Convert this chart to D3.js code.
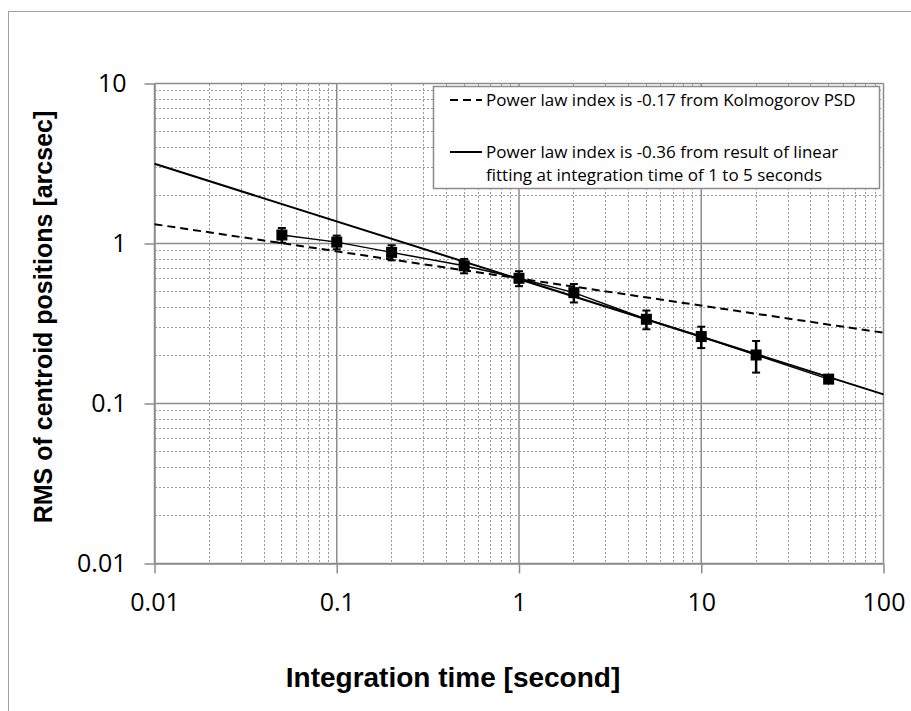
<!DOCTYPE html>
<html>
<head>
<meta charset="utf-8">
<script src="https://cdnjs.cloudflare.com/ajax/libs/d3/7.8.5/d3.min.js"></script>
<style>
    body { margin: 0; background: #fff; }
</style>
</head>
<body>
<svg id="chart" width="911" height="711"></svg>
<script>
// measured points
var integrationTimes = [0.05, 0.1, 0.2, 0.5, 1, 2, 5, 10, 20, 50];
var rmsValues = [1.13, 1.02, 0.88, 0.726, 0.606, 0.493, 0.336, 0.262, 0.201, 0.142];
var rmsErrors = [0.12, 0.10, 0.095, 0.075, 0.065, 0.065, 0.045, 0.04, 0.045, 0.006];

// power law fit lines, read at both ends of the x range
var fitX = [0.01, 100];
var kolmogorovY = [1.32, 0.277];
var linearFitY = [3.15, 0.114];

var xTickValues = [0.01, 0.1, 1, 10, 100];
var xTickLabels = ["0.01", "0.1", "1", "10", "100"];
var yTickValues = [0.01, 0.1, 1, 10];
var yTickLabels = ["0.01", "0.1", "1", "10"];

var legendLines = [
    ["Power law index is -0.17 from Kolmogorov PSD"],
    ["Power law index is -0.36 from result of linear", "fitting at integration time of 1 to 5 seconds"]
];

var plotLeft = 154.5, plotRight = 883.5, plotTop = 83.5, plotBottom = 563.5;
var chart = d3.select("#chart");

var x = d3.scaleLog().domain([0.01, 100]).range([plotLeft, plotRight]);
var y = d3.scaleLog().domain([0.01, 10]).range([plotBottom, plotTop]);

function isMajor(v) {
    var l = Math.log10(v);
    return Math.abs(l - Math.round(l)) < 1e-9;
}

// outer frame
chart.append("rect")
    .attr("x", 8.5).attr("y", 11.5)
    .attr("width", 1000).attr("height", 1000)
    .attr("fill", "none")
    .attr("stroke", "#a0a0a0")
    .attr("stroke-width", 1);

// minor grid
var xMinor = x.ticks().filter(function(d) { return !isMajor(d); });
var yMinor = y.ticks().filter(function(d) { return !isMajor(d); });

chart.append("g").selectAll("line")
    .data(xMinor)
    .enter()
    .append("line")
    .attr("x1", function(d) { return x(d); })
    .attr("x2", function(d) { return x(d); })
    .attr("y1", plotTop)
    .attr("y2", plotBottom)
    .attr("stroke", "#9a9a9a")
    .attr("stroke-width", 1)
    .attr("shape-rendering", "crispEdges")
    .attr("stroke-dasharray", "2,2");

chart.append("g").selectAll("line")
    .data(yMinor)
    .enter()
    .append("line")
    .attr("x1", plotLeft)
    .attr("x2", plotRight)
    .attr("y1", function(d) { return y(d); })
    .attr("y2", function(d) { return y(d); })
    .attr("stroke", "#9a9a9a")
    .attr("stroke-width", 1)
    .attr("shape-rendering", "crispEdges")
    .attr("stroke-dasharray", "2,2");

// major grid
chart.append("g").selectAll("line")
    .data(xTickValues)
    .enter()
    .append("line")
    .attr("x1", function(d) { return x(d); })
    .attr("x2", function(d) { return x(d); })
    .attr("y1", plotTop)
    .attr("y2", plotBottom)
    .attr("stroke", "#8c8c8c")
    .attr("stroke-width", 1.5);

chart.append("g").selectAll("line")
    .data(yTickValues)
    .enter()
    .append("line")
    .attr("x1", plotLeft)
    .attr("x2", plotRight)
    .attr("y1", function(d) { return y(d); })
    .attr("y2", function(d) { return y(d); })
    .attr("stroke", "#8c8c8c")
    .attr("stroke-width", 1.5);

// axes
var xAxis = d3.axisBottom(x)
    .tickValues(xTickValues)
    .tickFormat(function(d, i) { return xTickLabels[i]; })
    .tickSize(10)
    .tickSizeOuter(0)
    .tickPadding(20);

var yAxis = d3.axisLeft(y)
    .tickValues(yTickValues)
    .tickFormat(function(d, i) { return yTickLabels[i]; })
    .tickSize(10)
    .tickSizeOuter(0)
    .tickPadding(18);

var gx = chart.append("g")
    .attr("transform", "translate(0," + plotBottom + ")")
    .call(xAxis);
var gy = chart.append("g")
    .attr("transform", "translate(" + plotLeft + ",0)")
    .call(yAxis);

[gx, gy].forEach(function(g) {
    g.select(".domain").attr("stroke", "#8c8c8c").attr("stroke-width", 1.5);
    g.selectAll(".tick line").attr("stroke", "#8c8c8c").attr("stroke-width", 1.5);
    g.selectAll(".tick text")
        .attr("fill", "#000")
        .attr("font-family", "'Open Sans'")
        .attr("font-size", 25);
});

// data line
var line = d3.line()
    .x(function(d) { return x(d[0]); })
    .y(function(d) { return y(d[1]); });

chart.append("path")
    .datum(d3.zip(integrationTimes, rmsValues))
    .attr("d", line)
    .attr("fill", "none")
    .attr("stroke", "#000")
    .attr("stroke-width", 1.5);

// fit lines
chart.append("path")
    .datum(d3.zip(fitX, kolmogorovY))
    .attr("d", line)
    .attr("fill", "none")
    .attr("stroke", "#000")
    .attr("stroke-width", 2)
    .attr("stroke-dasharray", "8,5");

chart.append("path")
    .datum(d3.zip(fitX, linearFitY))
    .attr("d", line)
    .attr("fill", "none")
    .attr("stroke", "#000")
    .attr("stroke-width", 2);

// error bars
var pts = d3.zip(integrationTimes, rmsValues, rmsErrors);
var bars = chart.append("g").selectAll("g")
    .data(pts)
    .enter()
    .append("g");

bars.append("line")
    .attr("x1", function(d) { return x(d[0]); })
    .attr("x2", function(d) { return x(d[0]); })
    .attr("y1", function(d) { return y(d[1] + d[2]); })
    .attr("y2", function(d) { return y(d[1] - d[2]); })
    .attr("stroke", "#000")
    .attr("stroke-width", 2.5);

[1, -1].forEach(function(sign) {
    bars.append("line")
        .attr("x1", function(d) { return x(d[0]) - 4; })
        .attr("x2", function(d) { return x(d[0]) + 4; })
        .attr("y1", function(d) { return y(d[1] + sign * d[2]); })
        .attr("y2", function(d) { return y(d[1] + sign * d[2]); })
        .attr("stroke", "#000")
        .attr("stroke-width", 2);
});

bars.append("rect")
    .attr("x", function(d) { return x(d[0]) - 5.5; })
    .attr("y", function(d) { return y(d[1]) - 5.5; })
    .attr("width", 11)
    .attr("height", 11)
    .attr("fill", "#000");

// legend
chart.append("rect")
    .attr("x", 433.5).attr("y", 86.5)
    .attr("width", 446).attr("height", 102)
    .attr("fill", "#fff")
    .attr("stroke", "#8c8c8c")
    .attr("stroke-width", 1.5);

var legendRows = [
    { sampleY: 100, textY: [106], dash: "8,5" },
    { sampleY: 152, textY: [158, 181], dash: null }
];

legendRows.forEach(function(row, i) {
    chart.append("line")
        .attr("x1", 450).attr("x2", 482)
        .attr("y1", row.sampleY).attr("y2", row.sampleY)
        .attr("stroke", "#000")
        .attr("stroke-width", 2)
        .attr("stroke-dasharray", row.dash);
    legendLines[i].forEach(function(txt, j) {
        chart.append("text")
            .attr("x", 486)
            .attr("y", row.textY[j])
            .attr("font-family", "'Open Sans'")
            .attr("font-size", 17)
            .text(txt);
    });
});

// axis titles
chart.append("text")
    .attr("x", 453)
    .attr("y", 687)
    .attr("text-anchor", "middle")
    .attr("font-family", "'Liberation Sans'")
    .attr("font-weight", "bold")
    .attr("font-size", 28)
    .text("Integration time [second]");

chart.append("text")
    .attr("transform", "translate(52,317) rotate(-90)")
    .attr("text-anchor", "middle")
    .attr("font-family", "'Liberation Sans'")
    .attr("font-weight", "bold")
    .attr("font-size", 25)
    .text("RMS of centroid positions [arcsec]");
</script>
</body>
</html>
